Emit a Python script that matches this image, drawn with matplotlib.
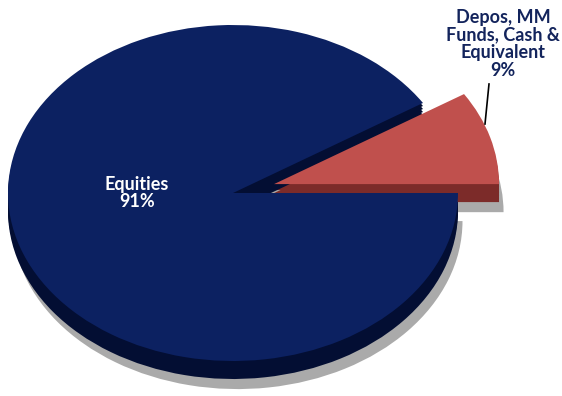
import matplotlib.pyplot as plt

# slice data
labels = ['Depos, MM\nFunds, Cash &\nEquivalent', 'Equities']
shares = [9, 91]
explode = [0.19, 0]
top_colors = ['#c0504d', '#0c2161']
side_colors = ['#7c2b29', '#030e33']
shadow_color = '#aaaaaa'

W, H = 562, 396
cx, cy = 233, 193      # pie centre in pixels
rx, ry = 225, 168      # squashed radii -> tilted look
depth = 18 / ry


def px(x, y):
    # pixel position -> data position
    return (x - cx) / rx, (cy - y) / ry


fig = plt.figure(figsize=(W / 100, H / 100), dpi=100)
ax = fig.add_axes([0, 0, 1, 1])

# drop shadow
sh, _ = ax.pie(shares, explode=explode, colors=[shadow_color] * 2, startangle=0,
               center=(0.02, -depth - 0.06), wedgeprops=dict(linewidth=0))
for w in sh:
    w.set_zorder(1)

# sides of the disc (stack a few layers so the edge is solid)
for k in range(1, 7):
    sd, _ = ax.pie(shares, explode=explode, colors=side_colors, startangle=0,
                   center=(0, -depth * k / 6), wedgeprops=dict(linewidth=0))
    for w in sd:
        w.set_zorder(2)

# top faces
tp, _ = ax.pie(shares, explode=explode, colors=top_colors, startangle=0,
               wedgeprops=dict(linewidth=0))
for w in tp:
    w.set_zorder(3)

ax.set_aspect('auto')
x0, y1 = px(0, 0)
x1, y0 = px(W, H)
ax.set_xlim(x0, x1)
ax.set_ylim(y0, y1)
ax.axis('off')

font = ['Lato', 'DejaVu Sans']
tx, ty = px(137, 193)
ax.text(tx, ty, f'{labels[1]}\n{shares[1]}%', color='white', fontsize=13,
        fontweight='bold', ha='center', va='center', family=font,
        linespacing=1.05, zorder=10)

tx, ty = px(503, 44)
ax.text(tx, ty, f'{labels[0]}\n{shares[0]}%', color='#13245c', fontsize=13,
        fontweight='bold', ha='center', va='center', family=font,
        linespacing=1.05, zorder=10)

lx0, ly0 = px(489, 84)
lx1, ly1 = px(485, 124)
ax.plot([lx0, lx1], [ly0, ly1], color='black', lw=1.2, zorder=10)

fig.savefig('out.png', dpi=100)
